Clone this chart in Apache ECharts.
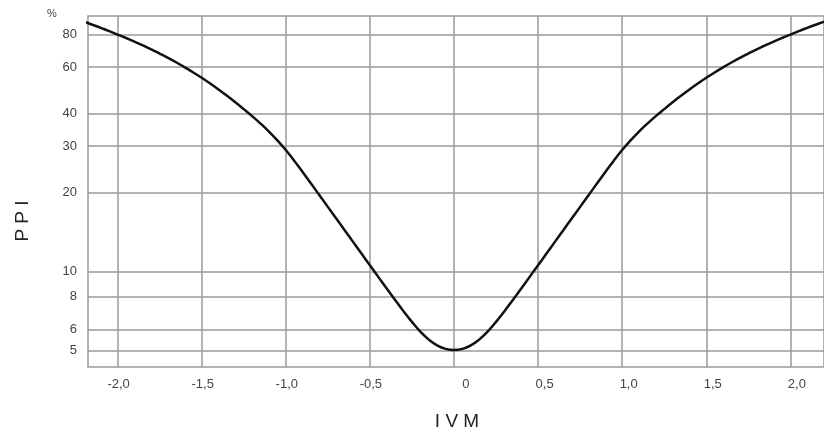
<!DOCTYPE html>
<html>
<head>
<meta charset="utf-8">
<script src="https://cdn.jsdelivr.net/npm/echarts@6/dist/echarts.min.js"></script>
<style>html,body{margin:0;padding:0;background:#fff}#c{width:824px;height:432px}</style>
</head>
<body>
<div id="c"></div>
<script>
// IVM values (x) and PPI values (%)
var ivm = [-2.20,-2.15,-2.10,-2.05,-2.00,-1.95,-1.90,-1.85,-1.80,-1.75,-1.70,-1.65,-1.60,-1.55,-1.50,-1.45,-1.40,-1.35,-1.30,-1.25,-1.20,-1.15,-1.10,-1.05,-1.00,-0.95,-0.90,-0.85,-0.80,-0.75,-0.70,-0.65,-0.60,-0.55,-0.50,-0.45,-0.40,-0.35,-0.30,-0.25,-0.20,-0.15,-0.10,-0.05,
  0.00,
  0.05,0.10,0.15,0.20,0.25,0.30,0.35,0.40,0.45,0.50,0.55,0.60,0.65,0.70,0.75,0.80,0.85,0.90,0.95,1.00,1.05,1.10,1.15,1.20,1.25,1.30,1.35,1.40,1.45,1.50,1.55,1.60,1.65,1.70,1.75,1.80,1.85,1.90,1.95,2.00,2.05,2.10,2.15,2.20];
var ppi = [89.45,87.08,84.69,82.29,79.89,77.50,75.08,72.63,70.15,67.62,65.09,62.52,59.91,57.28,54.64,51.98,49.32,46.67,44.07,41.52,39.04,36.57,34.09,31.56,28.99,26.41,23.93,21.61,19.51,17.61,15.90,14.35,12.95,11.69,10.55,9.526,8.606,7.783,7.050,6.418,5.893,5.493,5.220,5.063,
  5.012,
  5.063,5.220,5.493,5.893,6.418,7.050,7.783,8.606,9.526,10.55,11.69,12.95,14.35,15.90,17.61,19.51,21.61,23.93,26.41,28.99,31.56,34.09,36.57,39.04,41.52,44.07,46.67,49.32,51.98,54.64,57.28,59.91,62.52,65.09,67.62,70.15,72.63,75.08,77.50,79.89,82.29,84.69,87.08,89.45];
var xTicks = [-2,-1.5,-1,-0.5,0,0.5,1,1.5,2];
var yTicks = [5,6,8,10,20,30,40,60,80];
var xName = 'I V M';
var yName = 'P P I';
var yUnit = '%';

var data = ivm.map(function(x,i){return [x, ppi[i]];});
var gridColor = '#9a9a9a';
var labelFont = 'Liberation Sans, Arial, sans-serif';
var chart = echarts.init(document.getElementById('c'), null, {renderer:'canvas'});
chart.setOption({
  animation:false,
  backgroundColor:'#fff',
  grid:{left:88, top:16, width:744, height:351, show:true, borderColor:gridColor, borderWidth:1.5, containLabel:false},
  xAxis:{
    type:'value', min:-2.176, max:2.2,
    axisLine:{show:false},
    axisTick:{show:false, customValues:xTicks},
    axisLabel:{customValues:xTicks, margin:11, color:'#444', fontSize:13, fontFamily:labelFont,
      formatter:function(v){
        if(Math.abs(v)<1e-9) return '{z|0}';
        var s = v.toFixed(1).replace('.',',');
        return v>0 ? '{p|'+s+'}' : '{n|'+s+'}';
      },
      rich:{
        z:{fontSize:13, color:'#444', fontFamily:labelFont, padding:[0,0,0,24]},
        p:{fontSize:13, color:'#444', fontFamily:labelFont, padding:[0,0,0,13]},
        n:{fontSize:13, color:'#444', fontFamily:labelFont, padding:[0,0,0,2]}
      }},
    splitLine:{show:true, lineStyle:{color:gridColor, width:1.5}}
  },
  yAxis:{
    type:'log', logBase:10, min:4.32, max:94,
    axisLine:{show:false},
    axisTick:{show:false, customValues:yTicks},
    axisLabel:{customValues:yTicks, margin:11, color:'#444', fontSize:13, fontFamily:labelFont},
    splitLine:{show:true, lineStyle:{color:gridColor, width:1.5}}
  },
  graphic:[
    {type:'text', x:52, y:14, style:{text:yUnit, font:'11px "Liberation Sans", Arial, sans-serif', fill:'#444', textAlign:'center', textVerticalAlign:'middle'}},
    {type:'text', x:23, y:221, rotation:Math.PI/2, style:{text:yName, font:'19px "Liberation Sans", Arial, sans-serif', fill:'#222', textAlign:'center', textVerticalAlign:'middle'}},
    {type:'text', x:457, y:422, style:{text:xName, font:'19px "Liberation Sans", Arial, sans-serif', fill:'#222', textAlign:'center', textVerticalAlign:'middle'}}
  ],
  series:[{
    type:'line', data:data, smooth:0.5, showSymbol:false, clip:true,
    lineStyle:{color:'#111', width:2.5}
  }]
});
</script>
</body>
</html>
